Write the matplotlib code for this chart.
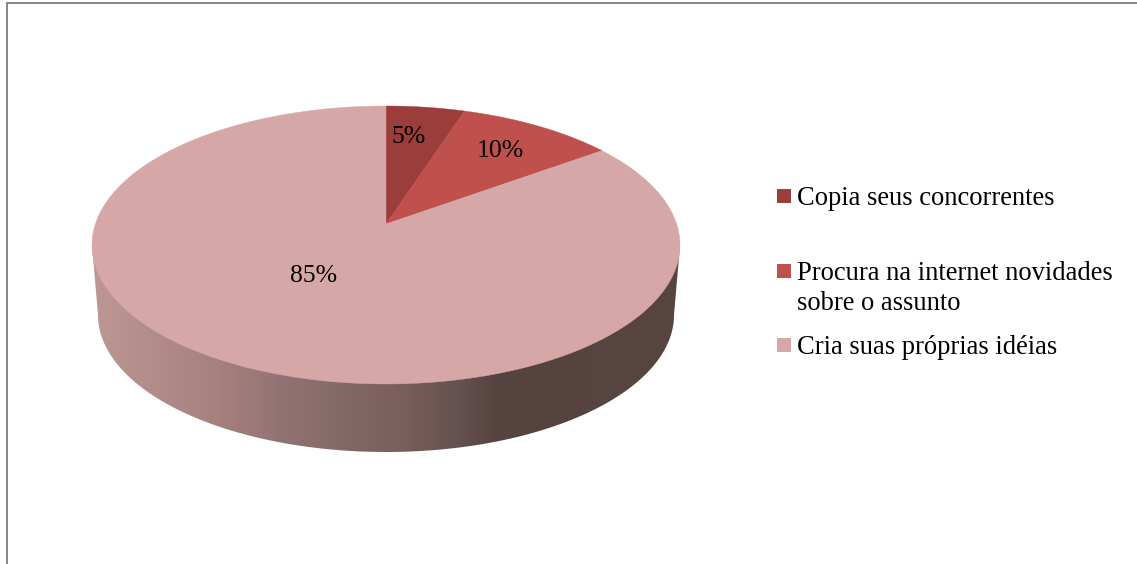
import numpy as np
import matplotlib
matplotlib.use('Agg')
import matplotlib.pyplot as plt
from matplotlib.colors import LinearSegmentedColormap
from matplotlib.patches import Polygon, Rectangle

labels = ['Copia seus concorrentes',
          'Procura na internet novidades\nsobre o assunto',
          'Cria suas próprias idéias']
values = [5, 10, 85]
pct_labels = ['5%', '10%', '85%']
colors = ['#9b3d3b', '#c0504d', '#d6a7a7']

W, H = 1137, 564
plt.rcParams['font.family'] = ['Liberation Serif', 'DejaVu Serif']

fig = plt.figure(figsize=(W / 100, H / 100), dpi=100)
ax = fig.add_axes([0, 0, 1, 1])
ax.set_xlim(0, W)
ax.set_ylim(H, 0)
ax.axis('off')

# top face of the pie, seen in perspective
cx, cy, a, b = 386, 245, 294, 139
apex_y = 224
s = (cy - apex_y) / b


def rim(frac):
    t = 2 * np.pi * np.asarray(frac)
    u, v = np.sin(t), np.cos(t)
    d = 1 + s * v
    return cx + a * u * np.sqrt(1 - s ** 2) / d, cy - b * (v + s) / d


# side wall, lower ellipse is slightly smaller
cx2, cy2, a2, b2 = 386, 315, 288, 137
t = np.linspace(np.pi, 0, 300)
wall_x = np.r_[cx - a, cx2 + a2 * np.cos(t), cx + a]
wall_y = np.r_[cy, cy2 + b2 * np.sin(t), cy]
wall = Polygon(np.c_[wall_x, wall_y], closed=True, fc='none', ec='none')
ax.add_patch(wall)
cmap = LinearSegmentedColormap.from_list('wall', [
    (0.0, '#bd9793'), (0.2, '#a8827e'), (0.33, '#907273'),
    (0.52, '#7a5f5e'), (0.62, '#665250'), (0.69, '#554340'), (1.0, '#584542')])
im = ax.imshow(np.linspace(0, 1, 256)[None, :], cmap=cmap, aspect='auto',
               extent=(cx - a, cx + a, cy2 + b2, cy), zorder=1)
im.set_clip_path(wall)
ax.set_xlim(0, W)
ax.set_ylim(H, 0)

edges = np.cumsum([0] + values) / sum(values)
for i in range(len(values)):
    f = np.linspace(edges[i], edges[i + 1], 200)
    x, y = rim(f)
    ax.fill(np.r_[cx, x], np.r_[apex_y, y], color=colors[i], lw=0.3, zorder=2)

# percent labels
pct_pos = [(409, 137), (500, 151), (314, 276)]
for txt, (x, y) in zip(pct_labels, pct_pos):
    ax.text(x, y, txt, fontsize=18.5, ha='center', va='center', color='black', zorder=3)

# legend
leg_y = [196, 271, 345]
text_y = [205, 280, 354]
for i in range(len(labels)):
    ax.add_patch(Rectangle((777, leg_y[i] - 7), 14, 14, fc=colors[i], ec='none'))
    first_y = text_y[i]
    ax.text(797, first_y, labels[i].split('\n')[0], fontsize=19.1, va='baseline', ha='left')
    if '\n' in labels[i]:
        ax.text(797, first_y + 30, labels[i].split('\n')[1], fontsize=19.1, va='baseline', ha='left')

# chart frame, only top and left are inside the crop
ax.plot([6.5, 6.5, W], [H, 3, 3], color='#868686', lw=1.4, solid_joinstyle='miter', zorder=4)

fig.savefig('out.png', dpi=100)
